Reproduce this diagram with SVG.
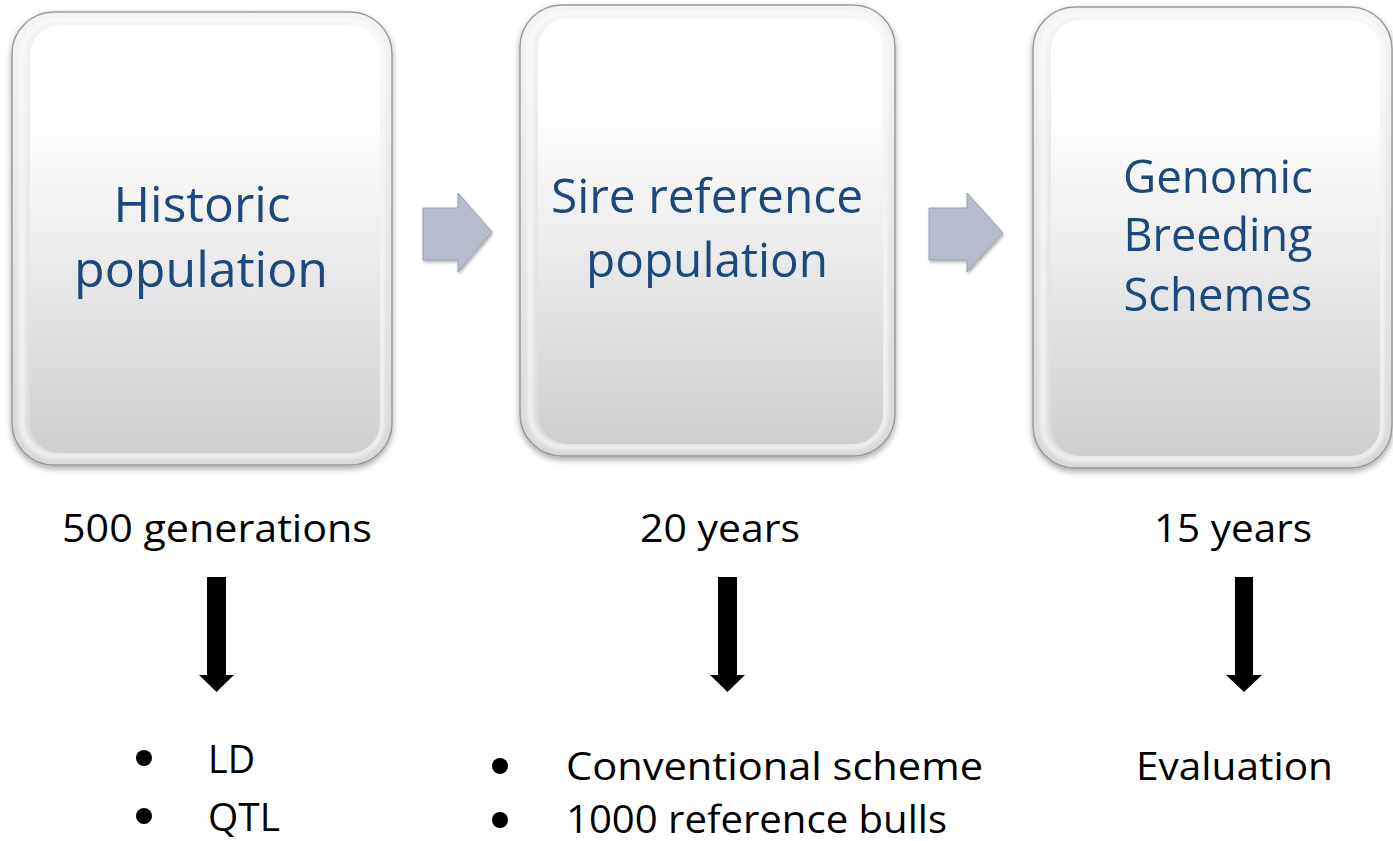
<svg xmlns="http://www.w3.org/2000/svg" width="1393" height="841" viewBox="0 0 1393 841">
<defs>
<linearGradient id="face" x1="0" y1="0" x2="0" y2="1">
<stop offset="0" stop-color="#ffffff"/>
<stop offset="0.22" stop-color="#ffffff"/>
<stop offset="1" stop-color="#cfcfcf"/>
</linearGradient>
<linearGradient id="rim" x1="0" y1="0" x2="0" y2="1">
<stop offset="0" stop-color="#f4f4f4"/>
<stop offset="1" stop-color="#d8d8d8"/>
</linearGradient>
<filter id="sh" x="-10%" y="-10%" width="120%" height="120%">
<feGaussianBlur in="SourceAlpha" stdDeviation="3"/>
<feOffset dx="0" dy="3" result="b"/>
<feComponentTransfer><feFuncA type="linear" slope="0.35"/></feComponentTransfer>
<feMerge><feMergeNode/><feMergeNode in="SourceGraphic"/></feMerge>
</filter>
<filter id="soft" x="-5%" y="-5%" width="110%" height="110%">
<feGaussianBlur stdDeviation="2.5"/>
</filter>
<filter id="ash" x="-20%" y="-20%" width="140%" height="140%">
<feGaussianBlur in="SourceAlpha" stdDeviation="1.5"/>
<feOffset dx="1" dy="2"/>
<feComponentTransfer><feFuncA type="linear" slope="0.3"/></feComponentTransfer>
<feMerge><feMergeNode/><feMergeNode in="SourceGraphic"/></feMerge>
</filter>
</defs>
<style>
.outer{fill:url(#rim);stroke:#9a9a9a;stroke-width:1.5}
.inner{fill:url(#face)}
.hl{fill:none;stroke:#ffffff;stroke-width:4;opacity:0.9}
.title{font-family:"Open Sans","Noto Sans","Liberation Sans",sans-serif;fill:#1f497d;text-anchor:middle}
.lbl{font-family:"Open Sans","Noto Sans","Liberation Sans",sans-serif;fill:#000000;font-size:38px}
.rarrow{fill:#b6bccb;stroke:#98a0b0;stroke-width:1}
.darrow{fill:#000000}
</style>
<rect width="1393" height="841" fill="#ffffff"/>

<g id="node-historic" filter="url(#sh)">
<rect class="outer" x="12" y="12" width="380" height="453" rx="42"/>
<rect class="hl" x="22" y="20" width="360" height="436" rx="34" filter="url(#soft)"/>
<rect class="inner" x="30" y="25" width="350" height="428" rx="30"/>
<text class="title" x="202" y="222" font-size="50" textLength="177" lengthAdjust="spacingAndGlyphs">Historic</text>
<text class="title" x="201" y="287" font-size="50" textLength="254" lengthAdjust="spacingAndGlyphs">population</text>
</g>

<g id="node-sire" filter="url(#sh)">
<rect class="outer" x="520" y="5" width="375" height="451" rx="42"/>
<rect class="hl" x="530" y="13" width="355" height="434" rx="34" filter="url(#soft)"/>
<rect class="inner" x="538" y="18" width="345" height="426" rx="30"/>
<text class="title" x="707" y="213" font-size="48" textLength="312" lengthAdjust="spacingAndGlyphs">Sire reference</text>
<text class="title" x="707" y="277" font-size="48" textLength="242" lengthAdjust="spacingAndGlyphs">population</text>
</g>

<g id="node-genomic" filter="url(#sh)">
<rect class="outer" x="1033" y="7" width="359" height="461" rx="42"/>
<rect class="hl" x="1043" y="15" width="339" height="444" rx="34" filter="url(#soft)"/>
<rect class="inner" x="1051" y="20" width="329" height="436" rx="30"/>
<text class="title" x="1218" y="193" font-size="45" textLength="190" lengthAdjust="spacingAndGlyphs">Genomic</text>
<text class="title" x="1218" y="251" font-size="45" textLength="189" lengthAdjust="spacingAndGlyphs">Breeding</text>
<text class="title" x="1218" y="311" font-size="45" textLength="189" lengthAdjust="spacingAndGlyphs">Schemes</text>
</g>

<g id="connectors">
<polygon class="rarrow" filter="url(#ash)" points="423,208 458,208 458,193 492,232 458,272 458,260 423,260"/>
<polygon class="rarrow" filter="url(#ash)" points="929,208 967,208 967,193 1003,233 967,272 967,260 929,260"/>
<polygon class="darrow" points="207,577 226,577 226,675 234,675 216.5,692 199,675 207,675"/>
<polygon class="darrow" points="718,577 737,577 737,675 745,675 727.5,692 710,675 718,675"/>
<polygon class="darrow" points="1235,577 1253,577 1253,675 1262,675 1244,692 1226,675 1235,675"/>
</g>

<g id="labels">
<text class="lbl" x="62" y="542" textLength="310" lengthAdjust="spacingAndGlyphs">500 generations</text>
<text class="lbl" x="640" y="542" textLength="160" lengthAdjust="spacingAndGlyphs">20 years</text>
<text class="lbl" x="1154" y="542" textLength="158" lengthAdjust="spacingAndGlyphs">15 years</text>
<circle cx="144" cy="758" r="8"/>
<text class="lbl" x="208" y="773" textLength="47" lengthAdjust="spacingAndGlyphs">LD</text>
<circle cx="144" cy="816" r="8"/>
<text class="lbl" x="208" y="831" textLength="72" lengthAdjust="spacingAndGlyphs">QTL</text>
<circle cx="500" cy="766" r="8"/>
<text class="lbl" x="566" y="780" textLength="417" lengthAdjust="spacingAndGlyphs">Conventional scheme</text>
<circle cx="500" cy="820" r="8"/>
<text class="lbl" x="566" y="833" textLength="381" lengthAdjust="spacingAndGlyphs">1000 reference bulls</text>
<text class="lbl" x="1136" y="780" textLength="197" lengthAdjust="spacingAndGlyphs">Evaluation</text>
</g>
</svg>
